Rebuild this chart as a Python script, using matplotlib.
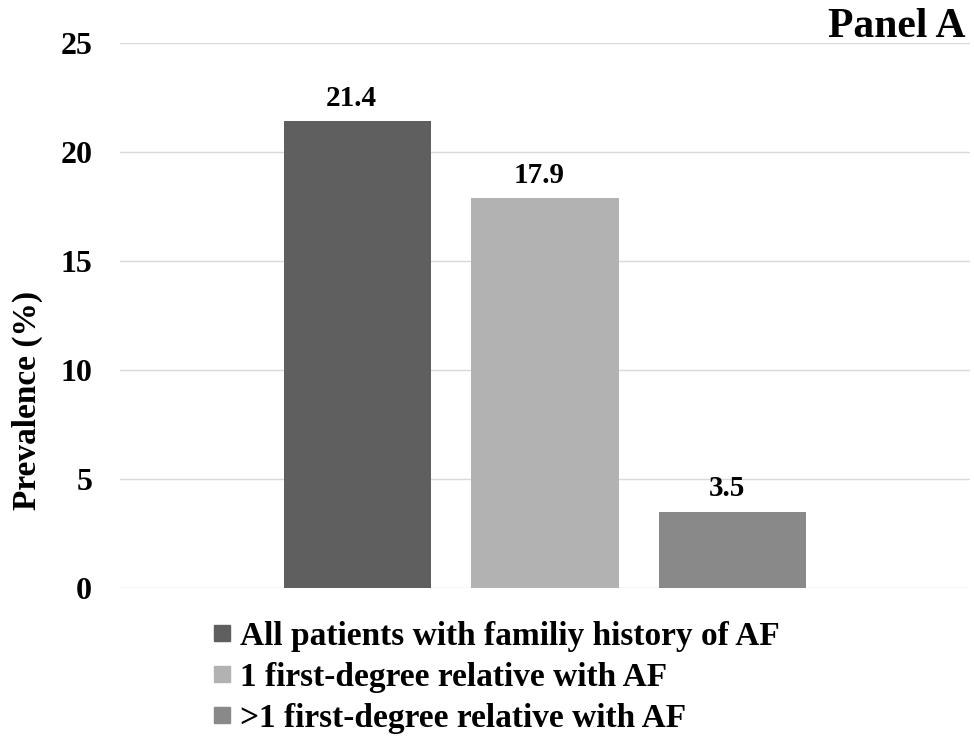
import matplotlib
matplotlib.use("Agg")
import matplotlib.pyplot as plt
from matplotlib.lines import Line2D

# Data
series_labels = [
    "All patients with familiy history of AF",
    "1 first-degree relative with AF",
    ">1 first-degree relative with AF",
]
prevalence = [21.4, 17.9, 3.5]
colors = ["#5f5f5f", "#b2b2b2", "#898989"]
y_ticks = [0, 5, 10, 15, 20, 25]

plt.rcParams["font.family"] = ["Liberation Serif", "DejaVu Serif"]
plt.rcParams["font.weight"] = "bold"

W, H = 974, 743
fig = plt.figure(figsize=(W / 100, H / 100), dpi=100)
ax = fig.add_axes([120 / W, 1 - 588 / H, 850 / W, 545 / H])

bar_w = 0.173
step = 0.221
n = len(prevalence)
for i, (v, c) in enumerate(zip(prevalence, colors)):
    x = (i - (n - 1) / 2) * step
    ax.bar(x, v, width=bar_w, color=c, zorder=3)
    ax.annotate(f"{v:.1f}", xy=(x, v), xytext=(-4, 11), textcoords="offset points",
                ha="center", va="baseline", fontsize=21, fontweight="bold", zorder=4)

ax.set_xlim(-0.5, 0.5)
ax.set_ylim(0, 25)
ax.set_yticks(y_ticks)
ax.set_yticklabels([str(t) for t in y_ticks], fontsize=23, fontweight="bold")
ax.set_xticks([])
ax.tick_params(axis="y", length=0, pad=20)
ax.grid(axis="y", color="#d9d9d9", linewidth=1, zorder=0)
for s in ax.spines.values():
    s.set_visible(False)

fig.text(27 / W, 1 - 400 / H, "Prevalence (%)", rotation=90, ha="center",
         va="center", fontsize=24, fontweight="bold")

fig.text(966 / W, 1 - 8 / H, "Panel A", ha="right", va="top",
         fontsize=30, fontweight="bold")

handles = [Line2D([0], [0], marker="s", linestyle="none", markersize=11,
                  markerfacecolor=c, markeredgecolor=c) for c in colors]
fig.legend(handles, series_labels, loc="upper left",
           bbox_to_anchor=(214 / W, 1 - 621 / H), frameon=False,
           prop={"size": 24, "weight": "bold"},
           handlelength=0.5, handletextpad=0.28, labelspacing=0.3,
           borderaxespad=0, borderpad=0)

fig.savefig("out.png", dpi=100)
